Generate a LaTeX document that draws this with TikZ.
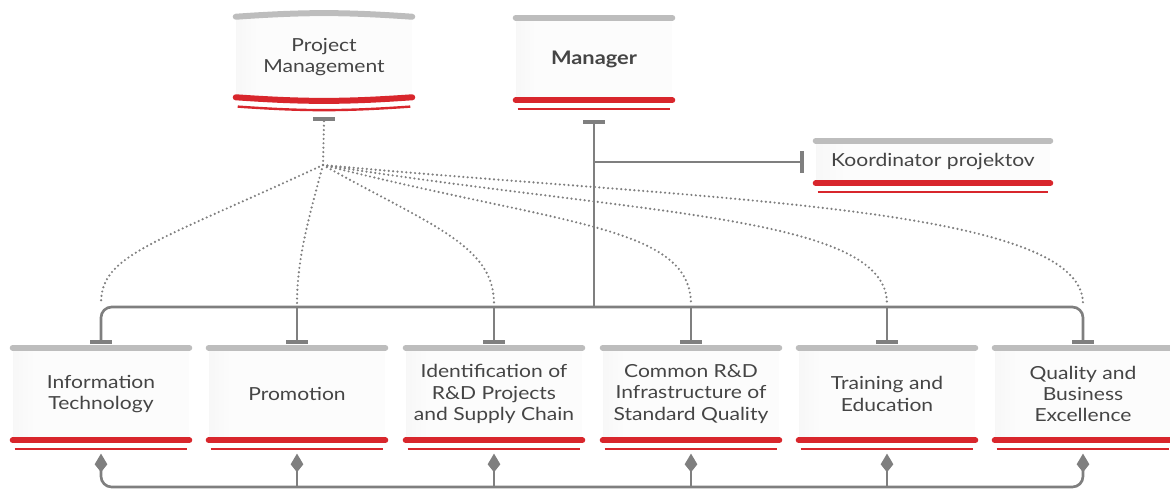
\documentclass[tikz,border=0pt]{standalone}
\usepackage{fontspec}
\setmainfont{Lato}[FakeStretch=1.17]
\usetikzlibrary{arrows.meta,calc}
\definecolor{cgray}{HTML}{7F7F7F}
\definecolor{bargray}{HTML}{BDBDBD}
\definecolor{cred}{HTML}{D8262C}
\definecolor{txt}{HTML}{454545}
\pgfdeclarehorizontalshading{unitbody}{100bp}{color(0bp)=(black!16); color(14bp)=(black!6); color(32bp)=(black!1); color(78bp)=(black!1); color(93bp)=(black!6); color(100bp)=(black!13)}
\tikzset{
 unit/.style={rectangle, inner sep=0pt, align=center, text=txt, font=\fontsize{13.5}{16}\selectfont, shading=unitbody},
 lowunit/.style={unit, minimum width=132pt, minimum height=69pt},
 graybar/.style={bargray, line width=4.5pt, line cap=round},
 redbar/.style={cred, line width=4.5pt, line cap=round},
 redthin/.style={cred, line width=1.8pt},
 conn/.style={cgray, line width=2pt},
 dots/.style={cgray, line width=1.8pt, line cap=round, dash pattern=on 0pt off 3.3pt},
 teetip/.tip={Bar[width=16pt, line width=3pt]},
 uptip/.tip={Kite[length=14pt, width=9.5pt, inset=6pt]},
}
\newcommand\unitbars[1]{%
 \draw[graybar] (#1.north west) -- (#1.north east);
 \draw[redbar] (#1.south west) -- (#1.south east);
 \draw[redthin] ([xshift=1.5pt,yshift=-6.75pt]#1.south west) -- ([xshift=-1.5pt,yshift=-6.75pt]#1.south east);}
\begin{document}
\begin{tikzpicture}[x=0.75pt,y=-0.75pt]
\useasboundingbox (0,0) rectangle (1170,490);
% top units
\node[unit, minimum width=132pt, minimum height=60pt] (pm) at (324,57) {Project\\Management};
\draw[graybar] (pm.north west) to[bend left=4] (pm.north east);
\draw[redbar] (pm.south west) to[bend right=4] (pm.south east);
\draw[redthin] ([xshift=1.5pt,yshift=-7pt]pm.south west) to[bend right=4] ([xshift=-1.5pt,yshift=-7pt]pm.south east);
\node[unit, minimum width=117pt, minimum height=61.5pt, font=\fontsize{14}{16}\selectfont\bfseries] (mgr) at (594,59) {Manager};
\unitbars{mgr}
\node[unit, minimum width=175.5pt, minimum height=31.5pt] (ko) at (933,162) {Koordinator projektov};
\unitbars{ko}
% bottom units
\node[lowunit] (b1) at (101,394) {Information\\Technology};
\node[lowunit] (b2) at (297,394) {Promotion};
\node[lowunit] (b3) at (494,394) {Identification of\\R\&D Projects\\and Supply Chain};
\node[lowunit] (b4) at (691,394) {Common R\&D\\Infrastructure of\\Standard Quality};
\node[lowunit] (b5) at (887,394) {Training and\\Education};
\node[lowunit] (b6) at (1083,394) {Quality and\\Business\\Excellence};
\foreach \b in {b1,b2,b3,b4,b5,b6}{\unitbars{\b}}
% coordinates
\coordinate (mgrt) at ([yshift=-15pt]mgr.south);
\coordinate (busM) at (594,307);
\coordinate (pmt) at ([yshift=-18pt]pm.south);
\coordinate (hub) at (323,165);
\coordinate (busT) at (0,307);
\coordinate (busB) at (0,487);
% manager connectors
\draw[conn, {teetip}-] (mgrt) -- (busM);
\draw[conn, -{teetip}] (mgrt |- ko.west) -- ([xshift=-9pt]ko.west);
% top bus
\draw[conn, rounded corners=8pt, {teetip}-{teetip}] ([yshift=3pt]b1.north) |- (busT -| b6.north) -- ([yshift=3pt]b6.north);
\foreach \b in {b2,b3,b4,b5}{\draw[conn, -{teetip}] (busT -| \b.north) -- ([yshift=3pt]\b.north);}
% bottom bus
\draw[conn, rounded corners=8pt, {uptip}-{uptip}] ([yshift=-10pt]b1.south) |- (busB -| b6.south) -- ([yshift=-10pt]b6.south);
\foreach \b in {b2,b3,b4,b5}{\draw[conn, -{uptip}] (busB -| \b.south) -- ([yshift=-10pt]\b.south);}
% dotted project management links
\draw[dots] (pmt) -- (hub);
\draw[conn, {teetip}-] (pmt) -- ++(0,-0.1);
\draw[dots] (hub) .. controls (150,245) and (101,255) .. ([yshift=33pt]b1.north);
\draw[dots] (hub) .. controls (308,220) and (297,260) .. ([yshift=33pt]b2.north);
\draw[dots] (hub) .. controls (430,225) and (494,245) .. ([yshift=33pt]b3.north);
\draw[dots] (hub) .. controls (560,225) and (690,225) .. ([yshift=33pt]b4.north);
\draw[dots] (hub) .. controls (640,215) and (887,215) .. ([yshift=33pt]b5.north);
\draw[dots] (hub) .. controls (700,200) and (1083,205) .. ([yshift=33pt]b6.north);
\end{tikzpicture}
\end{document}
